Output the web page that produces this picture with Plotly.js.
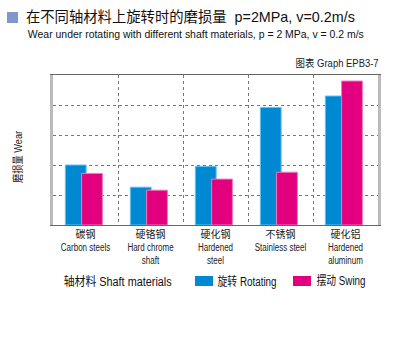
<!DOCTYPE html>
<html><head><meta charset="utf-8">
<script src="https://cdn.plot.ly/plotly-3.0.1.min.js"></script>
<style>html,body{margin:0;padding:0;background:#fff}#c{width:400px;height:360px}</style>
</head><body><div id="c"></div>
<script>
const categories = ["碳钢<br>Carbon steels", "硬铬钢<br>Hard chrome<br>shaft", "硬化钢<br>Hardened<br>steel", "不锈钢<br>Stainless steel", "硬化铝<br>Hardened<br>aluminum"];
const rotating = [2.0, 1.26, 1.95, 3.92, 4.3];
const swing = [1.72, 1.16, 1.53, 1.76, 4.8];
const seriesNames = ["旋转 Rotating", "摆动 Swing"];
const colors = ["#0089d3", "#e2007e"];

const idx = categories.map((c, i) => i);
const sans = "Liberation Sans, Arial, Noto Sans CJK SC, sans-serif";

const traces = [
  {type: 'bar', x: idx, y: rotating, name: seriesNames[0], width: 0.32, offset: -0.31,
   marker: {color: colors[0], line: {color: '#5ec3f2', width: 1}}, showlegend: false, hoverinfo: 'none'},
  {type: 'bar', x: idx, y: swing, name: seriesNames[1], width: 0.32, offset: -0.06,
   marker: {color: colors[1], line: {color: '#f27ab9', width: 1}}, showlegend: false, hoverinfo: 'none'}
];

const W = 325, H = 150, L = 53, T = 75;
const px = x => (x - L) / W;
const py = y => (T + H - y) / H;

// [text, left x, center y, size, color, width]
const notes = [
  ['在不同轴材料上旋转时的磨损量  p=2MPa, v=0.2m/s', 26, 17, 14.5, '#111', 329],
  ['Wear under rotating with different shaft materials, p = 2 MPa, v = 0.2 m/s', 28, 33.5, 11.5, '#111', 336],
  ['图表 Graph EPB3-7', 295, 63, 10.5, '#222', 83],
  ['轴材料 Shaft materials', 63, 281, 12, '#111', 108],
  [seriesNames[0], 217, 281, 12, '#111', 59],
  [seriesNames[1], 316, 281, 12, '#111', 49]
];

const layout = {
  width: 400, height: 360,
  margin: {l: L, r: 400 - L - W, t: T, b: 360 - T - H},
  paper_bgcolor: '#fff', plot_bgcolor: '#fff',
  barmode: 'overlay',
  showlegend: false,
  xaxis: {
    range: [-0.5, 4.5], tickvals: idx, ticktext: categories,
    tickfont: {family: sans, size: 10, color: '#222'},
    showgrid: false, ticks: '', showline: true, mirror: true, linecolor: '#666', linewidth: 1,
    minor: {tickvals: [0.5, 1.5, 2.5, 3.5], showgrid: true, gridcolor: '#777', griddash: 'dot', gridwidth: 1},
    zeroline: false
  },
  yaxis: {
    range: [0, 5], dtick: 1, showticklabels: false, ticks: '',
    showgrid: true, gridcolor: '#777', griddash: 'dot', gridwidth: 1,
    showline: true, mirror: true, linecolor: '#bbb', linewidth: 3, zeroline: false
  },
  shapes: [
    {type: 'rect', xref: 'paper', yref: 'paper', x0: px(7), x1: px(18), y0: py(12), y1: py(23),
     fillcolor: '#8097cc', line: {width: 0}},
    {type: 'rect', xref: 'paper', yref: 'paper', x0: px(195), x1: px(213), y0: py(276), y1: py(286),
     fillcolor: colors[0], line: {width: 0}},
    {type: 'rect', xref: 'paper', yref: 'paper', x0: px(293), x1: px(311), y0: py(276), y1: py(286),
     fillcolor: colors[1], line: {width: 0}}
  ],
  annotations: notes.map(n => ({
    xref: 'paper', yref: 'paper', x: px(n[1] + n[5] / 2), y: py(n[2]), xanchor: 'center', yanchor: 'middle',
    showarrow: false, text: n[0], font: {family: sans, size: n[3], color: n[4]}
  })).concat([{
    xref: 'paper', yref: 'paper', x: px(17), y: py(157), xanchor: 'center', yanchor: 'middle', textangle: -90,
    showarrow: false, text: '磨损量 Wear', font: {family: sans, size: 11, color: '#222'}
  }])
};
const widths = notes.map(n => n[5]).concat([52]);

function squeeze(el, len) {
  el.setAttribute('textLength', len);
  el.setAttribute('lengthAdjust', 'spacingAndGlyphs');
}

Plotly.newPlot('c', traces, layout, {staticPlot: true, displayModeBar: false}).then(gd => {
  gd.querySelectorAll('.annotation-text').forEach((t, i) => { if (widths[i]) squeeze(t, widths[i]); });
  gd.querySelectorAll('.xtick text tspan.line, .xtick text').forEach(el => {
    if (el.tagName === 'text' && el.querySelector('tspan')) return;
    if (/^[\x00-\x7f]+$/.test(el.textContent)) squeeze(el, el.getComputedTextLength() * 0.8);
  });
});
</script></body></html>
